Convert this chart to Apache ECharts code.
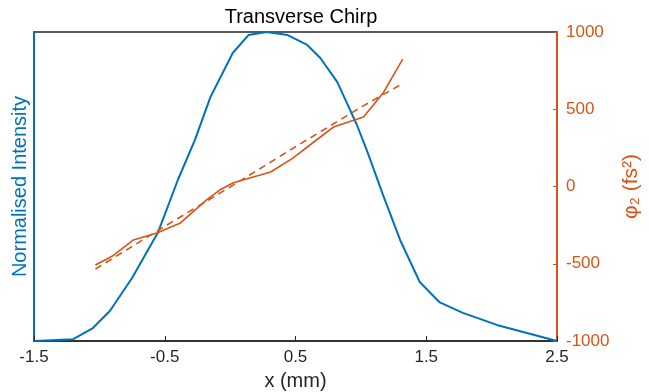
<!DOCTYPE html>
<html>
<head>
<meta charset="utf-8">
<script src="https://cdn.jsdelivr.net/npm/echarts@6/dist/echarts.min.js"></script>
<style>html,body{margin:0;padding:0;background:#fff}#c{width:649px;height:392px}</style>
</head>
<body>
<div id="c"></div>
<script>
// Data
var intensityX = [-1.5, -1.2, -1.05, -0.92, -0.75, -0.55, -0.4, -0.27, -0.15, 0.02, 0.14, 0.28, 0.44, 0.59, 0.69, 0.82, 0.89, 0.97, 1.05, 1.17, 1.3, 1.45, 1.6, 1.78, 2.04, 2.5];
var intensityY = [0, 0.006, 0.042, 0.097, 0.204, 0.353, 0.521, 0.65, 0.79, 0.932, 0.99, 1.0, 0.99, 0.958, 0.916, 0.838, 0.773, 0.699, 0.612, 0.472, 0.327, 0.191, 0.126, 0.091, 0.052, 0];
var phiX = [-1.03, -0.9, -0.74, -0.56, -0.38, -0.18, -0.08, 0.02, 0.15, 0.31, 0.48, 0.66, 0.79, 1.02, 1.17, 1.32];
var phiY = [-508, -450, -346, -301, -236, -87, -23, 23, 55, 94, 184, 301, 385, 450, 605, 825];
var fitX = [-1.03, -0.5, 0, 0.5, 1.0, 1.3];
var fitY = [-534, -258, -3, 257, 513, 657];
var xTicks = [-1.5, -0.5, 0.5, 1.5, 2.5];
var rightTicks = [-1000, -500, 0, 500, 1000];

function pairs(xs, ys) { return xs.map(function (x, i) { return [x, ys[i]]; }); }

var BLUE = '#0072BD', ORANGE = '#D95319', DARK = '#262626';
var FONT = 'Liberation Sans, Arial, sans-serif';

var chart = echarts.init(document.getElementById('c'), null, { renderer: 'canvas' });
chart.setOption({
  animation: false,
  backgroundColor: '#fff',
  title: {
    text: 'Transverse Chirp', left: 296, top: 2, textAlign: 'center',
    textStyle: { color: '#000', fontSize: 20, fontWeight: 'normal', fontFamily: FONT }
  },
  grid: { left: 34, right: 92, top: 32, bottom: 51, outerBoundsMode: 'none', containLabel: false,
    show: true, borderColor: DARK, borderWidth: 1.5, backgroundColor: '#fff' },
  xAxis: {
    type: 'value', min: -1.5, max: 2.5,
    name: 'x (mm)', nameLocation: 'middle', nameGap: 30,
    nameTextStyle: { color: DARK, fontSize: 20, fontFamily: FONT },
    axisLine: { onZero: false, lineStyle: { color: DARK, width: 1.5 } },
    axisTick: { inside: true, length: 5, customValues: xTicks, lineStyle: { color: DARK } },
    axisLabel: { customValues: xTicks, color: DARK, fontSize: 17, fontFamily: FONT, margin: 8,
      formatter: function (v) { return String(v); } },
    splitLine: { show: false }
  },
  yAxis: [{
    type: 'value', min: 0, max: 1, position: 'left',
    name: 'Normalised Intensity', nameLocation: 'middle', nameGap: 4, nameRotate: 90,
    nameTextStyle: { color: BLUE, fontSize: 20, fontFamily: FONT },
    axisLine: { show: true, onZero: false, lineStyle: { color: BLUE, width: 2 } },
    axisTick: { show: false }, axisLabel: { show: false }, splitLine: { show: false }
  }, {
    type: 'value', min: -1000, max: 1000, interval: 500, position: 'right',
    name: 'φ₂ (fs²)', nameLocation: 'middle', nameGap: 54, nameRotate: 90,
    nameTextStyle: { color: ORANGE, fontSize: 21, fontFamily: FONT },
    axisLine: { show: true, onZero: false, lineStyle: { color: ORANGE, width: 2 } },
    axisTick: { inside: true, length: 4, customValues: rightTicks, lineStyle: { color: ORANGE } },
    axisLabel: { customValues: rightTicks, color: ORANGE, fontSize: 17, fontFamily: FONT, margin: 9,
      formatter: function (v) { return String(v); } },
    splitLine: { show: false }
  }],
  series: [{
    type: 'line', yAxisIndex: 0, data: pairs(intensityX, intensityY),
    showSymbol: false, lineStyle: { color: BLUE, width: 2 }, z: 3
  }, {
    type: 'line', yAxisIndex: 1, data: pairs(phiX, phiY),
    showSymbol: false, lineStyle: { color: ORANGE, width: 1.6 }, z: 4
  }, {
    type: 'line', yAxisIndex: 1, data: pairs(fitX, fitY),
    showSymbol: false, lineStyle: { color: ORANGE, width: 1.6, type: [7, 5] }, z: 4
  }]
});
</script>
</body>
</html>
